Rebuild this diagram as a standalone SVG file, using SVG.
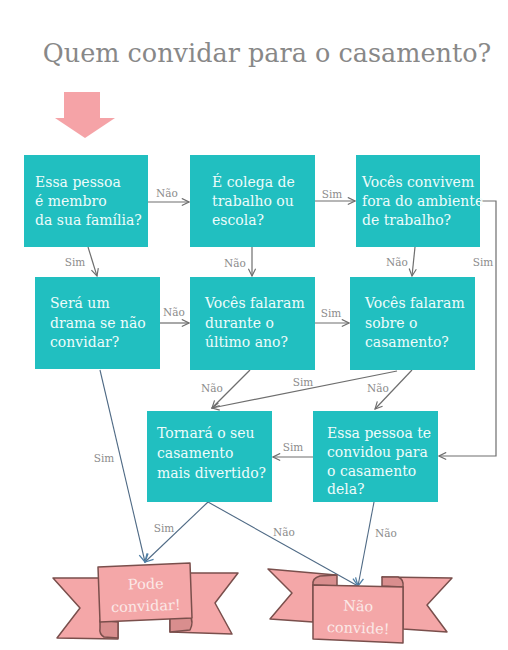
<svg xmlns="http://www.w3.org/2000/svg" width="508" height="650" viewBox="0 0 508 650">
<style>
.box{fill:#21bfc0;}
.bt{font-family:"DejaVu Serif","Liberation Serif",serif;font-size:14px;fill:#eefcfb;}
.lbl{font-family:"DejaVu Serif","Liberation Serif",serif;font-size:10.5px;fill:#8c8c8c;text-anchor:middle;}
.con{fill:none;stroke:#6e6e6e;stroke-width:1.2;marker-end:url(#ah);}
.con2{fill:none;stroke:#4f6a85;stroke-width:1.1;marker-end:url(#ah2);}
.rib{fill:#f4a7a8;stroke:#7a4f4c;stroke-width:1.5;stroke-linejoin:round;}
.fold{fill:#d98e8e;stroke:#7a4f4c;stroke-width:1.5;stroke-linejoin:round;}
.rt{font-family:"DejaVu Serif","Liberation Serif",serif;font-size:14.5px;fill:#fbe9e7;text-anchor:middle;}
.title{font-family:"DejaVu Serif","Liberation Serif",serif;font-size:25.5px;fill:#888888;text-anchor:middle;}
</style>
<defs>
<marker id="ah" viewBox="0 0 10 10" refX="9" refY="5" markerWidth="9" markerHeight="9" markerUnits="userSpaceOnUse" orient="auto">
<path d="M1,1 L9,5 L1,9" fill="none" stroke="#6e6e6e" stroke-width="1.3"/>
</marker>
<marker id="ah2" viewBox="0 0 10 10" refX="9" refY="5" markerWidth="10" markerHeight="10" markerUnits="userSpaceOnUse" orient="auto">
<path d="M1,1 L9,5 L1,9" fill="none" stroke="#4f7fa5" stroke-width="1.3"/>
</marker>
</defs>
<rect width="508" height="650" fill="#ffffff"/>
<text class="title" x="267" y="62">Quem convidar para o casamento?</text>
<g id="start">
<path d="M64,92 H100 V118 H115 L85,138 L55,118 H64 Z" fill="#f5a3a7"/>
</g>
<g id="connectors">
<path class="con" d="M148,202 H189"/>
<path class="con" d="M315,201 H355"/>
<path class="con" d="M88,247 L97,276"/>
<path class="con" d="M252,247 V276"/>
<path class="con" d="M415,247 L412,276"/>
<path class="con" d="M480,201 H496 V456 H439"/>
<path class="con" d="M160,323 H189"/>
<path class="con" d="M315,323 H349"/>
<path class="con2" d="M100,370 L145,562"/>
<path class="con" d="M250,370 L212,408"/>
<path class="con" d="M397,371 L212,408"/>
<path class="con" d="M412,370 L375,409"/>
<path class="con" d="M313,457 H273"/>
<path class="con2" d="M208,502 L145,562"/>
<path class="con2" d="M208,502 L358,586"/>
<path class="con2" d="M374,502 L358,586"/>
<text class="lbl" x="167" y="197">Não</text>
<text class="lbl" x="332" y="198">Sim</text>
<text class="lbl" x="75" y="266">Sim</text>
<text class="lbl" x="235" y="267">Não</text>
<text class="lbl" x="397" y="266">Não</text>
<text class="lbl" x="483" y="266">Sim</text>
<text class="lbl" x="174" y="316">Não</text>
<text class="lbl" x="331" y="317">Sim</text>
<text class="lbl" x="212" y="392">Não</text>
<text class="lbl" x="303" y="386">Sim</text>
<text class="lbl" x="378" y="392">Não</text>
<text class="lbl" x="104" y="462">Sim</text>
<text class="lbl" x="293" y="451">Sim</text>
<text class="lbl" x="164" y="532">Sim</text>
<text class="lbl" x="284" y="536">Não</text>
<text class="lbl" x="386" y="537">Não</text>
</g>
<g id="n1">
<rect class="box" x="24" y="155" width="124" height="92"/>
<text class="bt" x="35" y="187">Essa pessoa</text>
<text class="bt" x="35" y="206">é membro</text>
<text class="bt" x="35" y="225">da sua família?</text>
</g>
<g id="n2">
<rect class="box" x="190" y="155" width="125" height="92"/>
<text class="bt" x="212" y="187">É colega de</text>
<text class="bt" x="212" y="206">trabalho ou</text>
<text class="bt" x="212" y="225">escola?</text>
</g>
<g id="n3">
<rect class="box" x="356" y="155" width="124" height="92"/>
<text class="bt" x="362" y="187">Vocês convivem</text>
<text class="bt" x="362" y="206">fora do ambiente</text>
<text class="bt" x="362" y="225">de trabalho?</text>
</g>
<g id="n4">
<rect class="box" x="35" y="277" width="125" height="92"/>
<text class="bt" x="50" y="308">Será um</text>
<text class="bt" x="50" y="328">drama se não</text>
<text class="bt" x="50" y="347">convidar?</text>
</g>
<g id="n5">
<rect class="box" x="190" y="277" width="125" height="93"/>
<text class="bt" x="205" y="308">Vocês falaram</text>
<text class="bt" x="205" y="328">durante o</text>
<text class="bt" x="205" y="347">último ano?</text>
</g>
<g id="n6">
<rect class="box" x="350" y="277" width="125" height="93"/>
<text class="bt" x="365" y="308">Vocês falaram</text>
<text class="bt" x="365" y="328">sobre o</text>
<text class="bt" x="365" y="347">casamento?</text>
</g>
<g id="n7">
<rect class="box" x="147" y="411" width="125" height="91"/>
<text class="bt" x="157" y="438">Tornará o seu</text>
<text class="bt" x="157" y="458">casamento</text>
<text class="bt" x="157" y="478">mais divertido?</text>
</g>
<g id="n8">
<rect class="box" x="313" y="411" width="125" height="91"/>
<text class="bt" x="327" y="438">Essa pessoa te</text>
<text class="bt" x="327" y="457">convidou para</text>
<text class="bt" x="327" y="476">o casamento</text>
<text class="bt" x="327" y="494">dela?</text>
</g>
<g id="pode">
<path class="rib" d="M100,578 L53,578 L80,608 L57,638 L118,639 L118,620 Z"/>
<path class="rib" d="M190,573 L238,573 L215,603 L232,634 L170,632 L170,618 Z"/>
<path class="fold" d="M100,620 L118,622 L118,638 L104,637 Q99,634 100,628 Z"/>
<path class="fold" d="M170,618 L190,616 Q194,622 190,630 L170,632 Z"/>
<path class="rib" d="M98,567 L190,563 L192,618 L100,622 Z"/>
<text class="rt" x="146" y="589" transform="rotate(-2 146 589)">Pode</text>
<text class="rt" x="146" y="611" transform="rotate(-2 146 611)">convidar!</text>
</g>
<g id="naoconvide">
<path class="rib" d="M336,575 L268,569 L292,593 L270,619 L313,622 L313,585 Z"/>
<path class="rib" d="M382,577 L452,578 L427,605 L447,632 L403,629 L403,587 Z"/>
<path class="fold" d="M313,585 Q312,578 320,576 L337,575 L337,586 Z"/>
<path class="fold" d="M382,577 L398,577 Q404,579 403,587 L382,586 Z"/>
<path class="rib" d="M313,585 L403,587 L403,643 L313,639 Z"/>
<text class="rt" x="358" y="611" transform="rotate(2 358 611)">Não</text>
<text class="rt" x="358" y="633" transform="rotate(2 358 633)">convide!</text>
</g>
</svg>
